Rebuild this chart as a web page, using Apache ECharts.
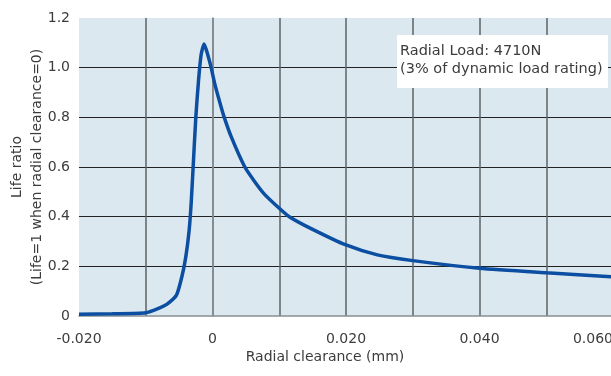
<!DOCTYPE html>
<html>
<head>
<meta charset="utf-8">
<script src="https://cdn.jsdelivr.net/npm/echarts@6/dist/echarts.min.js"></script>
<style>
  html, body { margin: 0; padding: 0; background: #fff; }
  #chart { width: 611px; height: 376px; }
</style>
</head>
<body>
<div id="chart"></div>
<script>
// radial clearance (mm) and life ratio
const clearance = [
  -0.020, -0.015, -0.010, -0.0079, -0.0068, -0.0054, -0.0046, -0.0040,
  -0.0035, -0.0032, -0.0029, -0.0025, -0.0021, -0.0017, -0.00125, -0.00065,
  -0.0002, 0.00034, 0.0011, 0.0017, 0.0028, 0.0048, 0.0063,
  0.0078, 0.0100, 0.0115, 0.0147, 0.0200, 0.0247, 0.0300, 0.0400,
  0.0500, 0.0600
]
const lifeRatio = [
  0.007, 0.009, 0.013, 0.033, 0.048, 0.084, 0.157, 0.238,
  0.345, 0.452, 0.60, 0.80, 0.946, 1.053, 1.095, 1.046,
  1.0, 0.935, 0.860, 0.805, 0.722, 0.602, 0.542,
  0.490, 0.434, 0.40, 0.353, 0.286, 0.246, 0.223, 0.192,
  0.174, 0.158
]

const noteLines = ['Radial Load: 4710N', '(3% of dynamic load rating)']

const font = 'DejaVu Sans'
const textColor = '#3c3c3c'

var chart = echarts.init(document.getElementById('chart'))

var option = {
  animation: false,
  textStyle: { fontFamily: font },
  grid: {
    left: 79,
    top: 18,
    right: -2,
    bottom: 60,
    containLabel: false,
    outerBoundsMode: 'none',
    show: true,
    backgroundColor: '#dce8ef',
    borderWidth: 0
  },
  xAxis: {
    type: 'value',
    min: -0.02,
    max: 0.06,
    interval: 0.01,
    name: 'Radial clearance (mm)',
    nameLocation: 'middle',
    nameGap: 34,
    nameMoveOverlap: false,
    nameTextStyle: { fontSize: 14, color: textColor, fontFamily: font, padding: [0, 42, 0, 0] },
    axisLine: { show: true, lineStyle: { color: '#8a8f92', width: 1.5 } },
    axisTick: { show: false },
    axisLabel: {
      fontSize: 14,
      color: textColor,
      fontFamily: font,
      margin: 16,
      alignMaxLabel: 'right',
      formatter: function (v) {
        const k = Math.round(v * 1000)
        if (k % 20 !== 0) return ''
        if (k === 0) return '0'
        return (k / 1000).toFixed(3)
      }
    },
    splitLine: {
      show: true,
      showMinLine: false,
      lineStyle: { color: '#5e6366', width: 1.5 }
    }
  },
  yAxis: {
    type: 'value',
    min: 0,
    max: 1.2,
    interval: 0.2,
    name: 'Life ratio\n(Life=1 when radial clearance=0)',
    nameLocation: 'middle',
    nameGap: 32,
    nameMoveOverlap: false,
    nameTextStyle: { fontSize: 14, color: textColor, fontFamily: font, lineHeight: 20 },
    axisLine: { show: true, lineStyle: { color: '#8a8f92', width: 1.5 } },
    axisTick: { show: false },
    axisLabel: {
      fontSize: 14,
      color: textColor,
      fontFamily: font,
      margin: 9,
      formatter: function (v) {
        return v === 0 ? '0' : v.toFixed(1)
      }
    },
    splitLine: {
      show: true,
      showMinLine: false,
      showMaxLine: false,
      lineStyle: { color: '#222', width: 1 }
    }
  },
  graphic: [
    {
      type: 'rect',
      shape: { x: 397, y: 35, width: 211, height: 53 },
      style: { fill: '#fff' },
      z: 100
    },
    {
      type: 'text',
      x: 400,
      y: 42,
      style: {
        text: noteLines.join('\n'),
        fontSize: 14.5,
        lineHeight: 18,
        fontFamily: font,
        fill: textColor
      },
      z: 101
    }
  ],
  series: [
    {
      type: 'line',
      data: clearance.map((x, i) => [x, lifeRatio[i]]),
      smooth: 0.2,
      symbol: 'none',
      lineStyle: { color: '#0b4ea2', width: 3.5 }
    }
  ]
}

option && chart.setOption(option)
</script>
</body>
</html>
